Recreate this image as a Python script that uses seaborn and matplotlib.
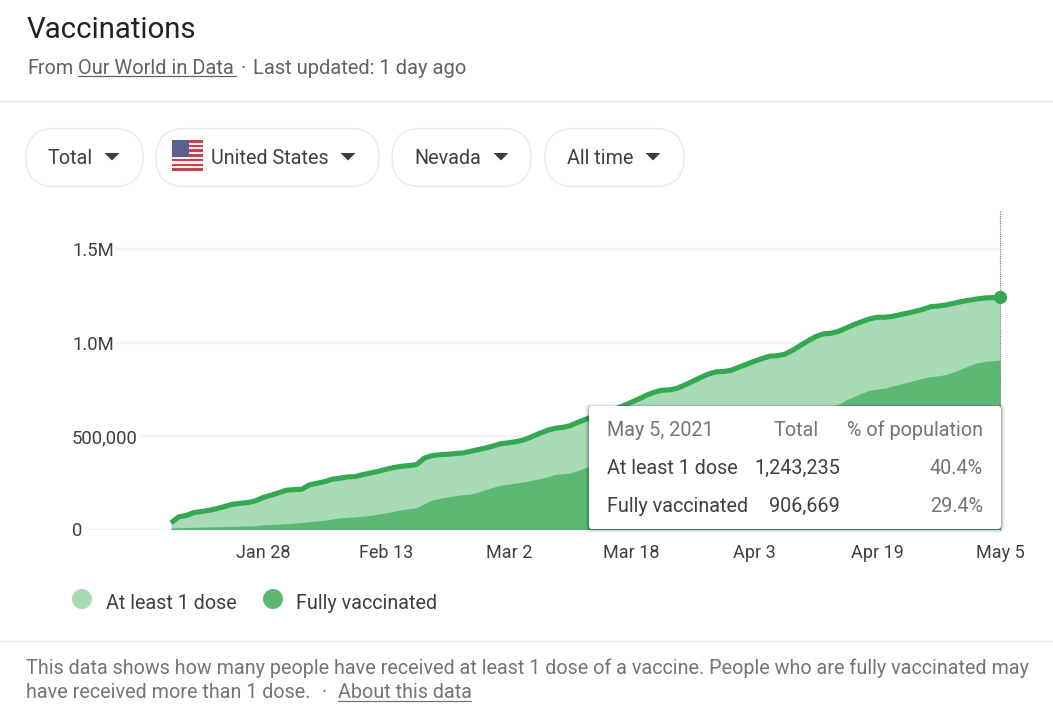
import pandas as pd
import seaborn as sns
from matplotlib import pyplot as plt
from matplotlib.patches import FancyBboxPatch, Polygon, Rectangle, Circle

# One reading per reported day, thousands of people (one day is missing in the source)
at_least_one_dose = [
    35, 68, 75, 91, 96, 103, 112, 123, 135, 140, 144, 153, 171, 183, 196, 210,
    213, 215, 238, 247, 256, 269, 274, 281, 283, 294, 302, 311, 322, 331, 338, 342,
    347, 382, 395, 400, 402, 406, 409, 418, 427, 436, 447, 459, 464, 470, 480, 496,
    514, 530, 541, 546, 555, 573, 589, 605, 618, 632, 647, 663, 681, 699, 719, 735,
    745, 747, 756, 774, 793, 813, 831, 843, 845, 852, 868, 884, 900, 914, 927, 929,
    938, 959, 984, 1009, 1032, 1046, 1050, 1060, 1078, 1096, 1112, 1126, 1135, 1135, 1140, 1149,
    1158, 1167, 1178, 1192, 1195, 1201, 1210, 1219, 1226, 1233, 1238, 1240, 1243.235,
]
fully_vaccinated = [
    8, 10, 11, 12, 13, 14, 15, 16, 17, 18, 19, 21, 25, 27, 29, 31,
    34, 37, 41, 45, 50, 56, 62, 65, 68, 71, 76, 82, 89, 97, 105, 111,
    117, 138, 157, 166, 174, 181, 186, 190, 200, 213, 226, 238, 243, 249, 254, 263,
    272, 281, 294, 298, 302, 315, 331, 340, 350, 361, 373, 386, 399, 412, 425, 438,
    451, 464, 477, 490, 503, 516, 529, 541, 553, 564, 575, 585, 595, 604, 612, 618,
    622, 626, 630, 636, 642, 650, 658, 671, 694, 712, 729, 745, 751, 756, 767, 777,
    788, 799, 809, 818, 822, 829, 843, 859, 877, 891, 898, 902, 906.669,
]
y_ticks = [0, 500000, 1000000, 1500000]
y_tick_labels = ['0', '500,000', '1.0M', '1.5M']
filters = ['Total', 'United States', 'Nevada', 'All time']

WIDTH, HEIGHT = 1053, 712
LINE = '#34a853'
LIGHT = '#a8dab5'
DARK = '#5bb974'
TEXT = '#3c4043'
SUB = '#5f6368'
MUTED = '#70757a'
RULE = '#e8eaed'
BODY = 14.2

sns.set_theme(style='white')
plt.rcParams['font.family'] = ['Roboto', 'DejaVu Sans']

dates = pd.date_range('2021-01-16', '2021-05-05').drop(pd.Timestamp('2021-02-21'))
df = pd.DataFrame({
    'point': range(len(dates)),
    'dose': [v * 1000 for v in at_least_one_dose],
    'full': [v * 1000 for v in fully_vaccinated],
})

fig = plt.figure(figsize=(WIDTH / 100, HEIGHT / 100), dpi=100)

# chart area, placed in pixels: x 72..1000, y 209.5..529.5
ax = fig.add_axes([72 / WIDTH, 1 - 529.5 / HEIGHT, 928 / WIDTH, 320 / HEIGHT])
px_per_point = (1000 - 171) / (len(dates) - 1)
px_per_person = 93.5 / 500000
ax.set_xlim(-(171 - 72) / px_per_point, len(dates) - 1)
ax.set_ylim(0, 320 / px_per_person)

ax.fill_between(df['point'], df['dose'], color=LIGHT, lw=0, zorder=2)
ax.fill_between(df['point'], df['full'], color=DARK, lw=0, zorder=3)
sns.lineplot(data=df, x='point', y='dose', color=LINE, lw=3.7, ax=ax, zorder=4,
             solid_capstyle='butt', solid_joinstyle='round')
ax.axvline(len(dates) - 1, color='#777777', lw=0.8, ls=(0, (1, 1)), zorder=5, clip_on=False)
ax.plot(df['point'].iloc[-1], df['dose'].iloc[-1], 'o', color=LINE, ms=9.5, mew=0,
        clip_on=False, zorder=6)

ax.set_xlabel('')
ax.set_ylabel('')
x_ticks = list(range(12, len(dates), 16))
ax.set_xticks(x_ticks)
ax.set_xticklabels([f'{dates[i]:%b} {dates[i].day}' for i in x_ticks])
ax.set_yticks(y_ticks)
ax.set_yticklabels(y_tick_labels)
ax.grid(axis='y', color='#f1f3f4', lw=1.6)
ax.set_axisbelow(True)
ax.tick_params(axis='x', length=6, width=1, color=RULE, labelsize=13, labelcolor=TEXT, pad=4.5)
ax.tick_params(axis='y', length=0, pad=0, labelsize=13.3, labelcolor=TEXT)
for tick_label in ax.get_yticklabels():
    tick_label.set_ha('left')
    tick_label.set_bbox(dict(facecolor='white', edgecolor='none', pad=1.5))
sns.despine(ax=ax, left=True, bottom=True)

# page furniture, in pixel coordinates
ui = fig.add_axes([0, 0, 1, 1], zorder=10)
ui.set_xlim(0, WIDTH)
ui.set_ylim(HEIGHT, 0)
ui.axis('off')
ui.patch.set_alpha(0)


def label(x, y, s, size=BODY, color=TEXT, ha='left'):
    return ui.text(x, y + 1.5, s, fontsize=size, color=color, ha=ha, va='center')


def underline(x0, x1, y, color):
    ui.plot([x0, x1], [y, y], color=color, lw=0.9)


label(27, 28, 'Vaccinations', size=21.2, color='#202124')
label(27, 67, 'From', color=SUB)
label(78, 67, 'Our World in Data', size=14.4, color=SUB)
underline(78, 236, 76, SUB)
label(241, 67, '·', color=SUB)
label(253, 67, 'Last updated: 1 day ago', size=14.5, color=SUB)
ui.plot([0, WIDTH], [100.5, 100.5], color=RULE, lw=1)

# filter pills: left, right, text start, arrow centre
pills = [(26, 143, 48, 112), (156, 379, 211, 348), (392, 531, 414, 501), (545, 684, 567, 653)]
for (x0, x1, tx, arrow), name in zip(pills, filters):
    ui.add_patch(FancyBboxPatch((x0 + 29, 157.5), x1 - x0 - 58, 0.01,
                                boxstyle='round,pad=29', fc='white', ec=RULE, lw=1))
    label(tx, 156.5, name)
    ui.add_patch(Polygon([(arrow - 7.5, 153), (arrow + 7.5, 153), (arrow, 160.5)], fc=TEXT, lw=0))

# flag
ui.add_patch(Rectangle((172, 140), 31, 31, fc='#f4eeee', lw=0))
for i in range(7):
    ui.add_patch(Rectangle((172, 140 + i * 4.7), 31, 2.5, fc='#c8414f', lw=0))
ui.add_patch(Rectangle((172, 140), 17, 16.5, fc='#5a5f8f', lw=0))

# legend
ui.add_patch(Circle((82, 599), 10, fc=LIGHT, lw=0))
label(106, 602, 'At least 1 dose')
ui.add_patch(Circle((273, 599), 10, fc=DARK, lw=0))
label(296, 602, 'Fully vaccinated')

# tooltip
for grow, alpha in [(3.5, 0.05), (2.5, 0.07), (1.5, 0.1), (0.7, 0.14)]:
    ui.add_patch(FancyBboxPatch((589, 407.5), 412, 121.5, boxstyle=f'round,pad={grow},rounding_size=4',
                                fc='black', alpha=alpha, lw=0))
ui.add_patch(FancyBboxPatch((589, 406), 412, 123, boxstyle='round,pad=0,rounding_size=3',
                            fc='white', lw=0))
label(607, 429, 'May 5, 2021', color=MUTED)
label(819, 429, 'Total', color=MUTED, ha='right')
label(983, 429, '% of population', color=MUTED, ha='right')
label(607, 467, 'At least 1 dose')
label(840, 467, '1,243,235', ha='right')
label(983, 467, '40.4%', color=MUTED, ha='right')
label(607, 505, 'Fully vaccinated')
label(840, 505, '906,669', ha='right')
label(983, 505, '29.4%', color=MUTED, ha='right')

# footer
ui.plot([0, WIDTH], [640.5, 640.5], color=RULE, lw=1)
label(26, 667, 'This data shows how many people have received at least 1 dose of a vaccine. '
               'People who are fully vaccinated may', color=MUTED)
label(26, 691, 'have received more than 1 dose.', color=MUTED)
label(322, 691, '·', color=MUTED)
label(338, 691, 'About this data', color=MUTED)
underline(338, 471, 700.5, MUTED)

fig.savefig('out.png', dpi=100, facecolor='white')
